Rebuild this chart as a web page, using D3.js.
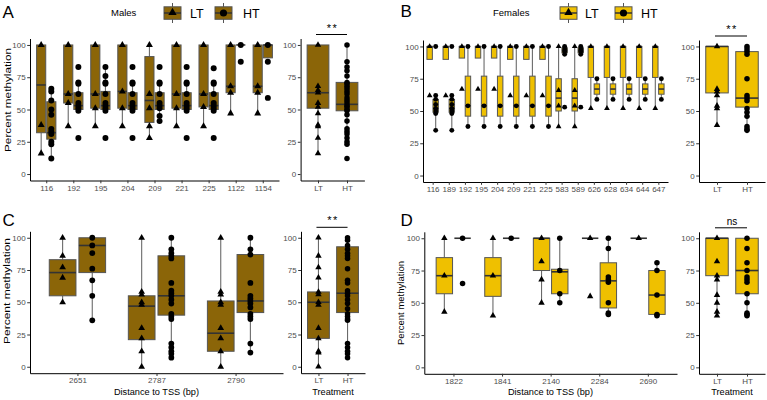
<!DOCTYPE html>
<html><head><meta charset="utf-8">
<script src="https://cdn.jsdelivr.net/npm/d3@7/dist/d3.min.js"></script>
<style>body{margin:0;background:#fff}</style>
</head><body>
<svg id="c" width="767" height="400"></svg>
<script>
// ---------------- DATA ----------------
const groups = ["LT", "HT"];
const yTicks = [0, 25, 50, 75, 100];

// Panel A (Males)
const catsA = ["116","192","195","204","209","221","225","1122","1154"];
const ltBoxA = [[16,32,69,100,100],[37,55,62,100,100],[37,51,62,100,100],[37,51,64,100,100],[28,40,57,91,100],[37,51,62,100,100],[37,52,62,100,100],[47,63,68,100,100],[47,63,68,100,100]];
const htBoxA = [[12,27,32,56,66],[49,50,53,63,71],[49,50,53,64,83],[49,50,53,63,71],[41,50,53,63,71],[49,50,53,63,71],[49,50,53,63,71],[100,100,100,100,100],[90,90,100,100,100]];
const ltPtsA = [[100,38,16],[100,62,55,37],[100,62,51,37],[100,64,51,37],[100,62,51,37,28],[100,62,51,37],[100,62,52,37],[100,68,63,47],[100,68,63,47]];
const htPtsA = [[66,64,57,50,46,35,33,31,25,23,12],[83,71,70,62,55,53,51,49,28],[83,76,71,70,62,55,53,51,49,28],[83,71,70,62,55,53,51,49,28],[83,71,70,62,55,53,51,45,41],[83,71,70,62,55,53,51,49,28],[82,71,70,62,55,53,51,49,28],[100,87],[100,87,59]];
const trtBoxA = [[16,51,63,100,100],[23,49,54,71,100]];
const trtPtsA = [[100,68,65,63,55,52,47,38,37,28,16],[100,87,83,80,76,71,70,68,66,64,62,59,57,55,53,52,50,49,46,41,35,33,31,28,25,23,12]];

// Panel B (Females)
const catsB = ["116","189","192","195","204","209","221","225","583","589","626","628","634","644","647"];
const ltBoxB = [[90,90,100,100,100],[90,90,100,100,100],[91,91,100,100,100],[91,91,100,100,100],[91,91,100,100,100],[90,90,100,100,100],[90,90,100,100,100],[90,90,100,100,100],[38,50,60,75,100],[38,50,60,75,100],[52,76,100,100,100],[52,76,100,100,100],[52,76,100,100,100],[52,76,100,100,100],[52,76,100,100,100]];
const htBoxB = [[35,49,52,59,62],[35,49,52,59,62],[38,46,54,77,100],[38,46,54,77,100],[38,46,54,77,100],[38,46,54,77,100],[38,46,54,77,100],[38,46,54,77,100],[94,95,97,99,100],[94,95,97,99,100],[59,63,67,71,75],[59,63,67,71,75],[59,63,67,71,75],[59,63,67,71,75],[59,63,67,71,75]];
const ltPtsB = [[100,62],[100,62],[100,67],[100,67],[100,67],[100,62],[100,62],[100,62],[100,66,54,38],[100,66,54,38],[100,52],[100,52],[100,52],[100,52],[100,52]];
const htPtsB = [[100,62,59,55,52,50,48,35],[100,62,59,55,52,50,48,35],[100,54,38],[100,54,38],[100,54,38],[100,54,38],[100,54,38],[100,54,38],[100,98,96,94,53],[100,98,96,94,53],[75,59],[75,59],[75,59],[75,59],[75,59]];
const trtBoxB = [[39,64,100,100,100],[35,53,60,96,100]];
const trtPtsB = [[100,67,65,62,54,52,39],[100,98,96,94,75,62,60,58,52,49,46,38,36,35]];

// Panel C
const catsC = ["2651","2787","2790"];
const ltBoxC = [[50,55,73,83,100],[0,21,47,55,100],[0,12,26,51,100]];
const htBoxC = [[36,73,94,100,100],[7,40,55,86,100],[11,42,51,87,100]];
const ltPtsC = [[100,86,77,69,50],[100,58,56,50,48,30,22,12,0],[100,58,56,50,48,30,22,12,0]];
const htPtsC = [[100,94,88,76,67,55,36],[100,91,88,86,84,65,59,57,55,52,49,41,39,37,18,15,12,10,7],[100,91,87,65,55,53,51,49,46,41,39,37,18,11]];
const trtBoxC = [[0,22,50,58,100],[7,42,57,93,100]];
const trtPtsC = [[100,86,77,69,58,56,50,48,30,22,12,11,0],[100,98,94,91,88,86,84,76,67,65,59,57,55,52,49,45,41,39,37,36,18,15,12,10,7]];

// Panel D
const catsD = ["1822","1841","2140","2284","2690"];
const ltBoxD = [[43,57,71,85,100],[40,55,71,85,100],[50,75,100,100,100],[100,100,100,100,100],[100,100,100,100,100]];
const htBoxD = [[100,100,100,100,100],[100,100,100,100,100],[50,57,74,76,100],[41,46,67,81,100],[40,41,56,75,81]];
const ltPtsD = [[100,71,43],[100,71,40],[100,82,68,50],[100,55],[100]];
const htPtsD = [[100,65],[100],[100,75,57,50],[100,92,70,68,66,50,42,41],[81,75,56,41,40]];
const trtBoxD = [[40,71,100,100,100],[40,57,75,100,100]];
const trtPtsD = [[100,82,71,68,56,50,43,40],[100,92,81,75,70,68,66,57,50,42,41,40]];

const sigLabels = ["**", "**", "**", "ns"];

// ---------------- STYLE / LAYOUT ----------------
const FONT = "'Liberation Sans', Arial, Helvetica, sans-serif";
const BROWN = "#8B6508", GOLD = "#EFC000";
const svg = d3.select("#c");

function txt(x, y, s, size, opts = {}) {
  const t = svg.append("text").attr("x", x).attr("y", y).text(s)
    .attr("font-family", FONT).attr("font-size", size)
    .attr("fill", opts.fill || "#000")
    .attr("text-anchor", opts.anchor || "start");
  if (opts.rotate) t.attr("transform", `rotate(-90,${x},${y})`);
  if (opts.len) t.attr("textLength", opts.len).attr("lengthAdjust", "spacingAndGlyphs");
  if (opts.ls) t.attr("letter-spacing", opts.ls);
  return t;
}

function drawBox(g, cx, w, s, y, fill) {
  const [lo, q1, med, q3, hi] = s;
  g.append("line").attr("x1", cx).attr("x2", cx).attr("y1", y(lo)).attr("y2", y(q1)).attr("stroke", "#6a6a6a").attr("stroke-width", 1.1);
  g.append("line").attr("x1", cx).attr("x2", cx).attr("y1", y(q3)).attr("y2", y(hi)).attr("stroke", "#6a6a6a").attr("stroke-width", 1.1);
  g.append("rect").attr("x", cx - w / 2).attr("y", y(q3)).attr("width", w).attr("height", Math.max(0, y(q1) - y(q3)))
    .attr("fill", fill).attr("stroke", "#555").attr("stroke-width", 1);
  g.append("line").attr("x1", cx - w / 2).attr("x2", cx + w / 2).attr("y1", y(med)).attr("y2", y(med)).attr("stroke", "#333").attr("stroke-width", 1.6);
}

function drawPts(g, cx, vals, y, grp, sz) {
  const sym = d3.symbol().type(grp === "LT" ? d3.symbolTriangle : d3.symbolCircle).size(grp === "LT" ? sz * 0.75 : sz);
  vals.forEach(v => {
    g.append("path").attr("d", sym()).attr("transform", `translate(${cx},${y(v)})`).attr("fill", "#000");
  });
}

function axes(g, x, y, o) {
  const ya = g.append("g").attr("transform", `translate(${o.left},0)`)
    .call(d3.axisLeft(y).tickValues(yTicks).tickSize(2.8).tickSizeOuter(0).tickPadding(1.5));
  const xa = g.append("g").attr("transform", `translate(0,${o.bottom})`)
    .call(d3.axisBottom(x).tickSize(2.8).tickSizeOuter(0).tickPadding(1.8));
  [ya, xa].forEach(a => {
    a.select(".domain").attr("stroke", "#000").attr("stroke-width", 1);
    a.selectAll(".tick line").attr("stroke", "#333");
    a.selectAll(".tick text").attr("fill", "#4d4d4d").attr("font-family", FONT).attr("font-size", 8);
  });
}

// dodged panel
function mainPanel(o, cats, ltBox, htBox, ltPts, htPts, fill) {
  const g = svg.append("g");
  const x = d3.scalePoint().domain(cats).range([o.left, o.right]).padding(0.6);
  const y = d3.scaleLinear().domain([-5, 105]).range([o.bottom, o.top]);
  const u = x.step();
  const w = 0.3375 * u, off = 0.1875 * u;
  cats.forEach((c, i) => {
    drawBox(g, x(c) - off, w, ltBox[i], y, fill);
    drawBox(g, x(c) + off, w, htBox[i], y, fill);
  });
  cats.forEach((c, i) => {
    drawPts(g, x(c) - off, ltPts[i], y, "LT", o.sz);
    drawPts(g, x(c) + off, htPts[i], y, "HT", o.sz);
  });
  axes(g, x, y, o);
}

function trtPanel(o, boxes, pts, fill, sig) {
  const g = svg.append("g");
  const x = d3.scalePoint().domain(groups).range([o.left, o.right]).padding(0.6);
  const y = d3.scaleLinear().domain([-5, 105]).range([o.bottom, o.top]);
  const w = 0.75 * x.step();
  groups.forEach((gr, i) => drawBox(g, x(gr), w, boxes[i], y, fill));
  groups.forEach((gr, i) => drawPts(g, x(gr), pts[i], y, gr, o.sz));
  axes(g, x, y, o);
  const by = o.top - 4;
  g.append("line").attr("x1", x("LT") - 2).attr("x2", x("HT")).attr("y1", by).attr("y2", by).attr("stroke", "#000").attr("stroke-width", 1);
  txt((x("LT") + x("HT")) / 2, by - 3, sig, sig === "ns" ? 10 : 11, { anchor: "middle", ls: sig === "ns" ? 0 : 1.5 });
}

function legend(x0, title, fill) {
  txt(x0.title, 16, title, 9.5);
  groups.forEach((gr, i) => {
    const kx = x0.keys[i], kw = 17, cx = kx + kw / 2;
    svg.append("line").attr("x1", cx).attr("x2", cx).attr("y1", 3).attr("y2", 23).attr("stroke", "#555");
    svg.append("rect").attr("x", kx).attr("y", 6.8).attr("width", kw).attr("height", 12.5).attr("fill", fill).attr("stroke", "#555");
    svg.append("line").attr("x1", kx).attr("x2", kx + kw).attr("y1", 13).attr("y2", 13).attr("stroke", "#333").attr("stroke-width", 1.5);
    const sym = d3.symbol().type(gr === "LT" ? d3.symbolTriangle : d3.symbolCircle).size(gr === "LT" ? 30 : 40);
    svg.append("path").attr("d", sym()).attr("transform", `translate(${cx},${gr === "LT" ? 12.5 : 13})`).attr("fill", "#000");
    txt(x0.labels[i], 17.5, gr, 12.5);
  });
}

// Panels
mainPanel({ left: 30, right: 279, top: 38.5, bottom: 180.5, sz: 28 }, catsA, ltBoxA, htBoxA, ltPtsA, htPtsA, BROWN);
trtPanel({ left: 300.6, right: 364.4, top: 38.5, bottom: 180.5, sz: 24 }, trtBoxA, trtPtsA, BROWN, sigLabels[0]);
mainPanel({ left: 423, right: 668, top: 40, bottom: 182, sz: 19 }, catsB, ltBoxB, htBoxB, ltPtsB, htPtsB, GOLD);
trtPanel({ left: 699, right: 765, top: 40, bottom: 182, sz: 24 }, trtBoxB, trtPtsB, GOLD, sigLabels[1]);
mainPanel({ left: 30, right: 283, top: 231.3, bottom: 373.2, sz: 26 }, catsC, ltBoxC, htBoxC, ltPtsC, htPtsC, BROWN);
trtPanel({ left: 301, right: 365, top: 231.3, bottom: 373.2, sz: 24 }, trtBoxC, trtPtsC, BROWN, sigLabels[2]);
mainPanel({ left: 424.3, right: 677, top: 231.8, bottom: 373.8, sz: 24 }, catsD, ltBoxD, htBoxD, ltPtsD, htPtsD, GOLD);
trtPanel({ left: 699, right: 765, top: 231.8, bottom: 373.8, sz: 24 }, trtBoxD, trtPtsD, GOLD, sigLabels[3]);

// Legends
legend({ title: 111, keys: [164, 215], labels: [190, 243] }, "Males", BROWN);
legend({ title: 493, keys: [560, 615], labels: [585, 641] }, "Females", GOLD);

// Titles
txt(2.5, 17.5, "A", 17);
txt(400.5, 16.5, "B", 17);
txt(2.5, 225.5, "C", 17);
txt(400.5, 226, "D", 17);

txt(10.5, 100, "Percent methylation", 9.5, { anchor: "middle", rotate: true, len: 104 });
txt(9.5, 291, "Percent methylation", 9.5, { anchor: "middle", rotate: true, len: 106 });
txt(403.5, 303, "Percent methylation", 9.5, { anchor: "middle", rotate: true });

txt(156.5, 394.5, "Distance to TSS (bp)", 9.2, { anchor: "middle" });
txt(550.5, 394.5, "Distance to TSS (bp)", 9.2, { anchor: "middle" });
txt(333, 394.5, "Treatment", 9.2, { anchor: "middle" });
txt(732, 394.5, "Treatment", 9.2, { anchor: "middle" });
</script>
</body></html>
